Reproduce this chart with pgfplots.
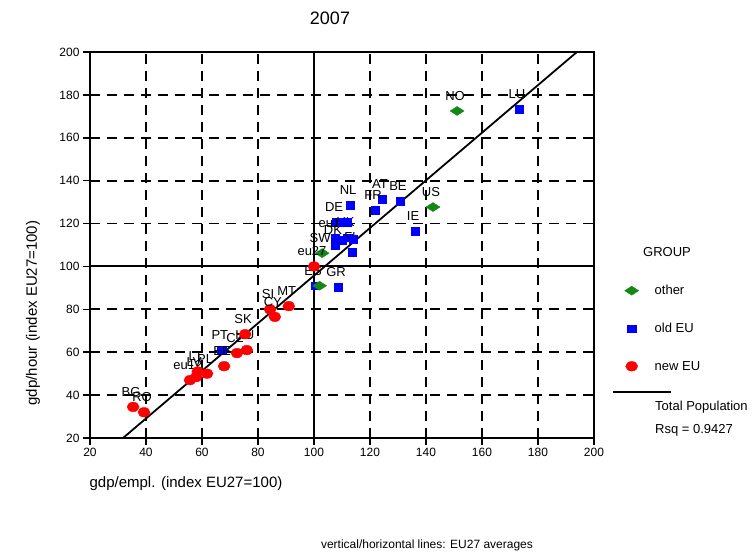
\documentclass[border=0pt]{standalone}
\usepackage{pgfplots}
\pgfplotsset{compat=1.18}
\usepackage{pgfplotstable}
\usepackage{fontspec}
\setmainfont{Liberation Sans}

\definecolor{grpgreen}{RGB}{20,135,20}
\definecolor{grpblue}{RGB}{0,0,255}
\definecolor{grpred}{RGB}{255,0,0}

% labelled points per group
\pgfplotstableread{
x y label
151.1 172.5 NO
142.5 127.7 US
102.9 106.2 SW
}\other
\pgfplotstableread{
x y label
173.2 173.4 LU
136.1 116.5 IE
130.7 130.5 BE
124.3 131.4 AT
121.8 126.3 FR
112.9 128.6 NL
107.9 120.7 DE
107.5 113.2 eu15
112.0 113.5 UK
107.5 110.0 DK
113.6 106.7 FI
100.4 91.0 ES
108.6 90.4 GR
67.1 61.0 PT
}\oldeu
\pgfplotstableread{
x y label
100.0 100.0 eu27
35.4 34.5 BG
39.3 32.0 RO
55.7 47.0 eu12
57.9 48.4 LV
58.5 51.0 LT
61.8 50.0 PL
67.9 53.5 EE
72.5 59.6 CZ
76.0 61.0 HU
75.4 68.4 SK
84.3 80.0 SI
86.0 76.5 CY
91.0 81.5 MT
}\neweu

\begin{document}
\begin{tikzpicture}[x=1pt,y=1pt]
\useasboundingbox (-90,-117) rectangle (663,438);
\begin{axis}[
    at={(0,0)}, anchor=south west,
    scale only axis, width=504pt, height=386pt,
    xmin=20, xmax=200, ymin=20, ymax=200,
    xtick={20,40,...,200}, ytick={20,40,...,200},
    tick align=outside, tick pos=left, major tick length=7pt,
    axis line style={line width=2pt},
    every tick/.style={black, line width=1.6pt},
    grid=major,
    major grid style={black, line width=1.7pt, dash pattern=on 10pt off 7pt},
    ticklabel style={font=\fontsize{12}{14}\selectfont},
    /pgf/number format/assume math mode=true,
    nodes near coords style={font=\fontsize{13}{15}\selectfont, black, anchor=center, yshift=15pt, xshift=-2pt},
    legend cell align=left,
    legend style={draw=none, fill=none, at={(1.0546,0.4067)}, anchor=north west,
        font=\fontsize{13}{15}\selectfont, row sep=23pt,
        /tikz/every odd column/.append style={column sep=14pt}},
]
% EU27 averages
\addplot[black, line width=2pt, forget plot] coordinates {(100,20)(100,200)};
\addplot[black, line width=2pt, forget plot] coordinates {(20,100)(200,100)};

\addplot[only marks, mark=diamond*, mark size=4.5pt,
    mark options={xscale=2.07, fill=grpgreen, draw=grpgreen},
    nodes near coords, point meta=explicit symbolic]
    table[meta=label] {\other};
\addplot[only marks, mark=square*, mark size=4.2pt,
    mark options={yscale=0.9, fill=grpblue, draw=grpblue},
    nodes near coords, point meta=explicit symbolic]
    table[meta=label] {\oldeu};
\addplot[only marks, mark=*, mark size=6pt,
    mark options={yscale=0.8, fill=grpred, draw=grpred},
    nodes near coords, point meta=explicit symbolic]
    table[meta=label] {\neweu};

% points whose labels are hidden
\addplot[only marks, mark=diamond*, mark size=4.5pt, forget plot,
    mark options={xscale=2.07, fill=grpgreen, draw=grpgreen}]
    coordinates {(102.0,91.0)};
\addplot[only marks, mark=square*, mark size=4.2pt, forget plot,
    mark options={yscale=0.9, fill=grpblue, draw=grpblue}]
    coordinates {(110.0,120.7)(111.8,120.7)(110.0,112.3)(114.0,112.8)};

% fit line, total population
\addplot[black, line width=1.8pt, forget plot] coordinates {(31.8,20)(193.9,200)};

\legend{other,old EU,new EU}
\end{axis}

\node[font=\fontsize{18}{21}\selectfont] at (240,420) {2007};
\node[font=\fontsize{15}{18}\selectfont] at (96,-46) {gdp/empl. (index EU27=100)};
\node[font=\fontsize{15}{18}\selectfont, rotate=90] at (-57,125) {gdp/hour (index EU27=100)};
\node[font=\fontsize{12}{14}\selectfont] at (337,-107) {vertical/horizontal lines: EU27 averages};

\node[font=\fontsize{13}{15}\selectfont] at (577,186) {GROUP};
\draw[line width=1.6pt] (523,46) -- (581,46);
\node[font=\fontsize{13}{15}\selectfont, anchor=west, inner sep=0pt] at (565,31) {Total Population};
\node[font=\fontsize{13}{15}\selectfont, anchor=west, inner sep=0pt] at (565,8) {Rsq = 0.9427};
\end{tikzpicture}
\end{document}
